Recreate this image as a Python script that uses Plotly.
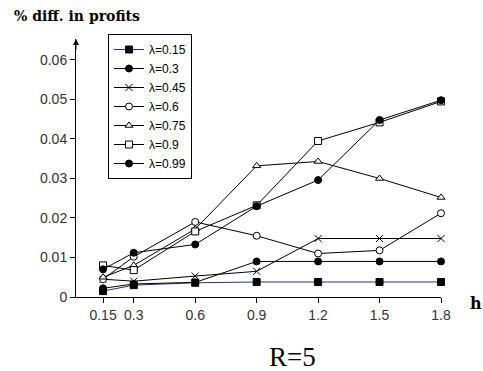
import plotly.graph_objects as go

h_vals = [0.15, 0.3, 0.6, 0.9, 1.2, 1.5, 1.8]
h_labels = ["0.15", "0.3", "0.6", "0.9", "1.2", "1.5", "1.8"]
y_ticks = [0, 0.01, 0.02, 0.03, 0.04, 0.05, 0.06]
y_labels = ["0", "0.01", "0.02", "0.03", "0.04", "0.05", "0.06"]

lam_015 = [0.0015, 0.0030, 0.0036, 0.0038, 0.0038, 0.0038, 0.0038]
lam_030 = [0.0022, 0.0033, 0.0037, 0.0090, 0.0090, 0.0090, 0.0090]
lam_045 = [0.0045, 0.0040, 0.0053, 0.0065, 0.0148, 0.0148, 0.0148]
lam_060 = [0.0045, 0.0102, 0.0190, 0.0155, 0.0110, 0.0118, 0.0212]
lam_075 = [0.0050, 0.0080, 0.0172, 0.0332, 0.0343, 0.0300, 0.0252]
lam_090 = [0.0080, 0.0068, 0.0166, 0.0232, 0.0395, 0.0442, 0.0495]
lam_099 = [0.0070, 0.0112, 0.0133, 0.0230, 0.0296, 0.0448, 0.0498]

series = [
    ("0.15", lam_015, "square", "black", "#2e2e8a"),
    ("0.3", lam_030, "circle", "black", "black"),
    ("0.45", lam_045, "x-thin-open", "black", "black"),
    ("0.6", lam_060, "circle", "white", "black"),
    ("0.75", lam_075, "triangle-up", "white", "black"),
    ("0.9", lam_090, "square", "white", "black"),
    ("0.99", lam_099, "circle", "black", "black"),
]

L, R_, T, B = 76, 42, 39, 74
W, H = 483, 371
PW, PH = W - L - R_, H - T - B
SERIF = "Liberation Serif, Times New Roman, Times, serif"
BSERIF = "DejaVu Serif, serif"

fig = go.Figure()
for name, vals, sym, fill, lcol in series:
    fig.add_trace(go.Scatter(
        x=h_vals, y=vals, mode="lines+markers",
        name="λ=" + name,
        line=dict(color=lcol, width=1),
        marker=dict(symbol=sym, size=7,
                    color=fill, line=dict(color="black", width=1)),
        cliponaxis=False,
    ))

fig.update_layout(
    width=W, height=H,
    margin=dict(l=L, r=R_, t=T, b=B),
    paper_bgcolor="white", plot_bgcolor="white",
    showlegend=True,
    legend=dict(x=(108 - L) / PW, y=1 + 5 / PH, xanchor="left", yanchor="top",
                bordercolor="black", borderwidth=1, bgcolor="white",
                font=dict(family="Liberation Sans", size=12, color="black"),
                tracegroupgap=0, itemwidth=30),
    xaxis=dict(range=[0.018, 1.8], tickvals=h_vals, ticktext=h_labels,
               showline=True, linecolor="black", linewidth=1,
               ticks="outside", ticklen=5, tickcolor="black",
               showgrid=False, zeroline=False,
               tickfont=dict(family="Liberation Sans", size=14, color="#333333")),
    yaxis=dict(range=[0, 0.0653], tickvals=y_ticks, ticktext=y_labels,
               showline=True, linecolor="black", linewidth=1,
               ticks="outside", ticklen=5, tickcolor="black",
               showgrid=False, zeroline=False,
               tickfont=dict(family="Liberation Sans", size=14, color="#333333")),
)

fig.add_annotation(x=0.018, y=0.0653, xref="x", yref="y", ax=0, ay=12,
                   showarrow=True, arrowhead=2, arrowsize=1.2, arrowwidth=1,
                   arrowcolor="black", text="")
fig.add_annotation(x=(12 - L) / PW, y=1 + (T - 16) / PH, xref="paper", yref="paper",
                   text="% diff. in profits", showarrow=False,
                   xanchor="left", yanchor="middle",
                   font=dict(family=BSERIF, size=14, color="black", weight=700))
fig.add_annotation(x=(476 - L) / PW, y=-(303 - (T + PH)) / PH, xref="paper", yref="paper",
                   text="h", showarrow=False, xanchor="center", yanchor="middle",
                   font=dict(family=BSERIF, size=16, color="black", weight=700))
fig.add_annotation(x=(292 - L) / PW, y=-(357 - (T + PH)) / PH, xref="paper", yref="paper",
                   text="R=5", showarrow=False, xanchor="center", yanchor="middle",
                   font=dict(family=SERIF, size=27, color="black"))

fig.write_html("out.html")
